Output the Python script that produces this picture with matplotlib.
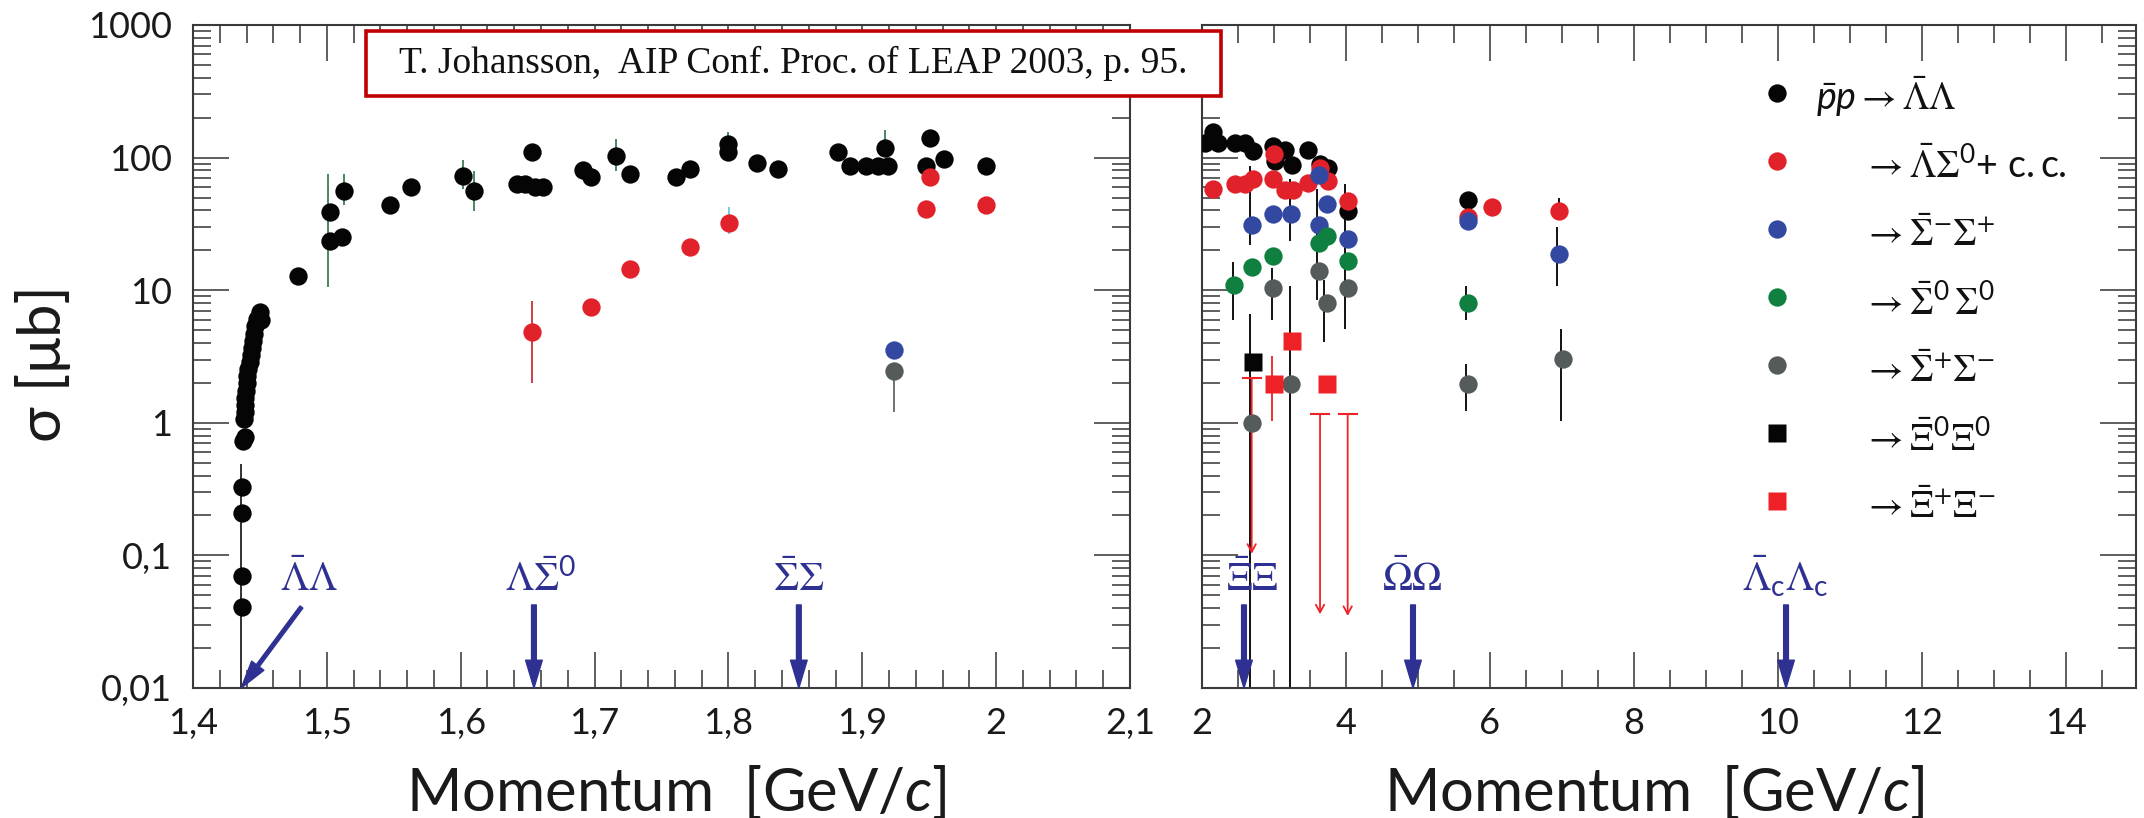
import numpy as np
import matplotlib
matplotlib.use("Agg")
import matplotlib.pyplot as plt
from matplotlib.ticker import FixedLocator, LogLocator, MultipleLocator, NullFormatter
from matplotlib.patches import Rectangle

plt.rcParams['font.family'] = ['Lato', 'Open Sans', 'DejaVu Sans']
plt.rcParams['mathtext.fontset'] = 'custom'
plt.rcParams['mathtext.rm'] = 'STIXGeneral'
plt.rcParams['mathtext.it'] = 'Lato:italic'
plt.rcParams['mathtext.sf'] = 'Lato'
plt.rcParams['mathtext.bf'] = 'Lato:bold'
plt.rcParams['mathtext.fallback'] = 'stix'

# ---- data, left panel (threshold region) ----
ll_x = [1.4364, 1.4364, 1.4364, 1.4364, 1.4370, 1.4385, 1.4380, 1.4385, 1.4390, 1.4385,
        1.4395, 1.4405, 1.4400, 1.4410, 1.4425, 1.4430, 1.4440, 1.4445, 1.4455, 1.4465,
        1.4480, 1.4500, 1.4510,
        1.4787, 1.5023, 1.5110, 1.5023, 1.5128, 1.5471, 1.5628, 1.6019, 1.6100, 1.6417,
        1.6480, 1.6529, 1.6554, 1.6616, 1.6915, 1.6977, 1.7159, 1.7264, 1.7607, 1.7712,
        1.7998, 1.7998, 1.8210, 1.8371, 1.8820, 1.8907, 1.9030, 1.9118, 1.9193, 1.9168,
        1.9504, 1.9474, 1.9609, 1.9922]
ll_y = [0.0405, 0.0695, 0.21, 0.33, 0.73, 0.78, 1.06, 1.2, 1.36, 1.54,
        1.75, 1.98, 2.24, 2.53, 2.87, 3.25, 3.67, 4.16, 4.71, 5.33,
        6.04, 6.84, 6.0,
        12.9, 23.6, 25.1, 38.8, 56.3, 43.9, 59.9, 72.1, 56.3, 62.9,
        63.6, 110, 60, 60, 80.6, 71.3, 103, 75.7, 71.3, 81.6,
        126, 110, 91.2, 81.6, 110, 85.8, 86.9, 86.9, 86.9, 118,
        141, 86.9, 97, 85.8]
ls0_x = [1.6529, 1.6977, 1.7264, 1.7712, 1.8003, 1.9504, 1.9474, 1.9922]
ls0_y = [4.86, 7.41, 14.5, 21.1, 32.2, 71.3, 41.2, 43.9]
smp_x_left = [1.9238]
smp_y_left = [3.56]
spm_x_left = [1.9238]
spm_y_left = [2.45]

# error bars, left panel: (x, low, high)
err_green_x = [1.5008, 1.5128, 1.6019, 1.6100, 1.7159, 1.7998, 1.9168]
err_green_lo = [10.5, 43.9, 58.1, 39.3, 79, 126, 118]
err_green_hi = [75.7, 75.7, 95.3, 79.2, 138, 157, 161]
err_red_x = [1.6529]
err_red_lo = [1.98]
err_red_hi = [8.24]
err_cyan_x = [1.8003]
err_cyan_lo = [26.7]
err_cyan_hi = [42.6]
err_gray_x = [1.9238]
err_gray_lo = [1.21]
err_gray_hi = [2.45]
err_black_x = [1.4355]
err_black_lo = [0.001]
err_black_hi = [0.49]

# ---- data, right panel ----
r_ll_x = [2.042, 2.157, 2.227, 2.458, 2.597, 2.713, 2.99, 3.014, 3.153, 3.246, 3.476, 3.639, 3.754, 4.023, 5.69]
r_ll_y = [129, 156, 129, 128, 129, 113, 123, 94.8, 114, 87.9, 114, 89, 83.6, 39.3, 47.9]
r_ls0_x = [2.157, 2.458, 2.597, 2.713, 3.004, 2.99, 3.153, 3.268, 3.476, 3.639, 3.754, 4.023, 5.69, 6.032, 6.96]
r_ls0_y = [58.4, 63.3, 63.3, 68.6, 107, 68.6, 57, 57, 64.5, 83.6, 66.2, 47.3, 35.6, 42.3, 39.3]
r_smp_x = [2.699, 2.99, 3.236, 3.629, 3.629, 3.732, 4.023, 5.69, 6.96]
r_smp_y = [31, 37.4, 37.4, 73.9, 31, 45, 24.2, 33, 18.9]
r_s00_x = [2.449, 2.699, 2.99, 3.625, 3.732, 4.023, 5.69]
r_s00_y = [10.9, 14.9, 18, 22.7, 25.8, 16.7, 8.02]
r_spm_x = [2.699, 2.99, 3.236, 3.625, 3.732, 4.023, 5.69, 7.01]
r_spm_y = [0.99, 10.3, 1.96, 14, 8.02, 10.3, 1.96, 3.03]
r_x00_x = [2.713]
r_x00_y = [2.85]
r_xpm_x = [3.004, 3.246, 3.732]
r_xpm_y = [1.96, 4.14, 1.96]
lim_x = [2.69, 3.639, 4.023]
lim_top = [2.18, 1.16, 1.16]
lim_tip = [0.103, 0.036, 0.035]

r_err_x = [2.426, 2.667, 2.667, 2.97, 3.222, 3.222, 3.60, 3.69, 3.99, 5.66, 5.66, 6.93, 6.96, 6.98]
r_err_lo = [6.0, 22.1, 0.001, 6.0, 23.5, 0.001, 8.4, 4.1, 5.14, 6.0, 1.23, 10.8, 39.3, 1.03]
r_err_hi = [16.4, 86.5, 6.6, 14.7, 69.5, 10.8, 57.7, 12, 63.2, 10.8, 2.76, 30, 49.5, 5.14]
r_err_red_x = [2.97]
r_err_red_lo = [1.04]
r_err_red_hi = [3.17]

# thresholds (arrow x, label)
thr_left_x = [1.6547, 1.8526]
thr_left_lab = [r'$\Lambda\bar{\Sigma}^{\mathsf{0}}$', r'$\bar{\Sigma}\Sigma$']
thr_left_lab_x = [1.660, 1.8526]
thr_right_x = [2.583, 4.93, 10.11]
thr_right_lab = [r'$\bar{\Xi}\Xi$', r'$\bar{\Omega}\Omega$', r'$\bar{\Lambda}_{\mathsf{c}}\Lambda_{\mathsf{c}}$']
thr_right_lab_x = [2.694, 4.92, 10.1]

y_ticks = [0.01, 0.1, 1, 10, 100, 1000]
y_labels = ['0,01', '0,1', '1', '10', '100', '1000']
x_ticks_left = [1.4, 1.5, 1.6, 1.7, 1.8, 1.9, 2.0, 2.1]
x_labels_left = ['1,4', '1,5', '1,6', '1,7', '1,8', '1,9', '2', '2,1']
x_ticks_right = [2, 4, 6, 8, 10, 12, 14]

legend_labels = [
    r'$\bar{p}p\rightarrow\bar{\Lambda}\Lambda$',
    r'$\rightarrow\bar{\Lambda}\Sigma^{\mathsf{0}}\mathsf{+\ c.c.}$',
    r'$\rightarrow\bar{\Sigma}^{-}\Sigma^{+}$',
    r'$\rightarrow\bar{\Sigma}^{\mathsf{0}}\,\Sigma^{\mathsf{0}}$',
    r'$\rightarrow\bar{\Sigma}^{+}\Sigma^{-}$',
    r'$\rightarrow\bar{\Xi}^{\mathsf{0}}\Xi^{\mathsf{0}}$',
    r'$\rightarrow\bar{\Xi}^{+}\Xi^{-}$',
]

C_BLACK = '#050505'
C_RED = '#e2222a'
C_BLUE = '#3348a0'
C_GREEN = '#108040'
C_GRAY = '#555a5a'
C_SQRED = '#ee2226'
C_ARROW = '#2e3192'
C_ERRGREEN = '#3a7d52'
MS = 13.2

fig = plt.figure(figsize=(21.44, 8.18), dpi=100)
ax1 = fig.add_axes([193 / 2144, 1 - 688 / 818, 937 / 2144, 663 / 818])
ax2 = fig.add_axes([1202 / 2144, 1 - 688 / 818, 934 / 2144, 663 / 818])


def style_axes(ax):
    ax.set_yscale('log')
    ax.set_ylim(0.01, 1000)
    ax.yaxis.set_major_locator(FixedLocator(y_ticks))
    ax.yaxis.set_minor_locator(LogLocator(base=10, subs=np.arange(2, 10)))
    ax.yaxis.set_minor_formatter(NullFormatter())
    ax.tick_params(which='both', direction='in', top=True, right=True,
                   color='#333333', width=1.1, labelsize=26, labelcolor='#1a1a1a')
    ax.tick_params(which='major', length=26)
    ax.tick_params(which='minor', length=13)
    ax.tick_params(axis='x', pad=14)
    ax.tick_params(axis='y', pad=15)
    for s in ax.spines.values():
        s.set_linewidth(1.5)
        s.set_color('#3a3a3a')


def threshold_arrow(ax, x):
    ax.annotate('', xy=(x, 0.0100), xytext=(x, 0.0423),
                arrowprops=dict(color=C_ARROW, width=3.4, headwidth=12,
                                headlength=20, shrink=0), zorder=6)


# ---- left panel ----
style_axes(ax1)
ax1.set_xlim(1.4, 2.1)
ax1.set_xticks(x_ticks_left, labels=x_labels_left)
ax1.xaxis.set_minor_locator(MultipleLocator(0.02))
ax1.set_yticks(y_ticks, labels=y_labels)

ax1.vlines(err_black_x, err_black_lo, err_black_hi, color='#222222', lw=1.3, zorder=2)
ax1.vlines(err_green_x, err_green_lo, err_green_hi, color=C_ERRGREEN, lw=1.3, zorder=2)
ax1.vlines(err_red_x, err_red_lo, err_red_hi, color='#c8323c', lw=1.3, zorder=2)
ax1.vlines(err_cyan_x, err_cyan_lo, err_cyan_hi, color='#6ec6e8', lw=1.3, zorder=2)
ax1.vlines(err_gray_x, err_gray_lo, err_gray_hi, color='#666666', lw=1.3, zorder=2)

ax1.plot(ll_x, ll_y, 'o', ms=MS, color=C_BLACK, mec='none', zorder=3)
ax1.plot(ls0_x, ls0_y, 'o', ms=MS, color=C_RED, mec='none', zorder=4)
ax1.plot(smp_x_left, smp_y_left, 'o', ms=MS, color=C_BLUE, mec='none', zorder=4)
ax1.plot(spm_x_left, spm_y_left, 'o', ms=MS, color=C_GRAY, mec='none', zorder=4)

ax1.annotate('', xy=(1.436, 0.0100), xytext=(1.481, 0.0408),
             arrowprops=dict(color=C_ARROW, width=2.6, headwidth=11,
                             headlength=20, shrink=0), zorder=6)
ax1.text(1.4866, 0.054, r'$\bar{\Lambda}\Lambda$', color=C_ARROW, fontsize=29,
         ha='center', va='baseline', zorder=6)
for x, lx, lab in zip(thr_left_x, thr_left_lab_x, thr_left_lab):
    threshold_arrow(ax1, x)
    ax1.text(lx, 0.054, lab, color=C_ARROW, fontsize=29, ha='center', va='baseline', zorder=6)

ax1.set_ylabel('σ [μb]', fontsize=43, color='#1a1a1a', va='center')
ax1.yaxis.set_label_coords(-0.160, 0.49)
ax1.set_xlabel('Momentum  [GeV/$c$]', fontsize=43, color='#1a1a1a', va='top')
ax1.xaxis.set_label_coords(0.5155, -0.113)

# ---- right panel ----
style_axes(ax2)
ax2.set_xlim(2, 14.97)
ax2.set_xticks(x_ticks_right)
ax2.xaxis.set_minor_locator(MultipleLocator(0.5))
ax2.tick_params(labelleft=False)

ax2.vlines(r_err_x, r_err_lo, r_err_hi, color='#111111', lw=1.4, zorder=2)
ax2.vlines(r_err_red_x, r_err_red_lo, r_err_red_hi, color=C_SQRED, lw=1.3, zorder=2)
for x, top, tip in zip(lim_x, lim_top, lim_tip):
    ax2.annotate('', xy=(x, tip), xytext=(x, top),
                 arrowprops=dict(arrowstyle='->,head_length=0.55,head_width=0.3',
                                 color=C_SQRED, lw=1.3, shrinkA=0, shrinkB=0), zorder=2)
ax2.plot(lim_x, lim_top, '_', ms=15, mew=1.5, color=C_SQRED, zorder=2)

series = [
    (r_ll_x, r_ll_y, 'o', C_BLACK),
    (r_ls0_x, r_ls0_y, 'o', C_RED),
    (r_smp_x, r_smp_y, 'o', C_BLUE),
    (r_s00_x, r_s00_y, 'o', C_GREEN),
    (r_spm_x, r_spm_y, 'o', C_GRAY),
    (r_x00_x, r_x00_y, 's', C_BLACK),
    (r_xpm_x, r_xpm_y, 's', C_SQRED),
]
for i, (xs, ys, m, c) in enumerate(series):
    ax2.plot(xs, ys, m, ms=MS, color=c, mec='none', zorder=3 + i * 0.1)

for x, lx, lab in zip(thr_right_x, thr_right_lab_x, thr_right_lab):
    threshold_arrow(ax2, x)
    ax2.text(lx, 0.054, lab, color=C_ARROW, fontsize=29, ha='center', va='baseline', zorder=6)

# legend drawn by hand to keep the arrow column aligned
for i, ((_, _, m, c), lab) in enumerate(zip(series, legend_labels)):
    yy = 0.8974 - i * 0.1026
    ax2.plot([0.6156], [yy], m, ms=MS, color=c, mec='none', transform=ax2.transAxes,
             clip_on=False, zorder=7)
    tx = 0.6574 if i == 0 else 0.708
    ax2.text(tx, yy - 0.026, lab, transform=ax2.transAxes, fontsize=27, color='#111111',
             ha='left', va='baseline', zorder=7)

ax2.set_xlabel('Momentum  [GeV/$c$]', fontsize=43, color='#1a1a1a', va='top')
ax2.xaxis.set_label_coords(0.484, -0.113)

# reference box
fig.add_artist(Rectangle((366 / 2144, 1 - 96 / 818), 855 / 2144, 65 / 818,
                         transform=fig.transFigure, facecolor='white',
                         edgecolor='#c00000', lw=2.6, zorder=10))
fig.text(793.5 / 2144, 1 - 63.5 / 818, 'T. Johansson,  AIP Conf. Proc. of LEAP 2003, p. 95.',
         fontsize=27, family='Liberation Serif', ha='center', va='center',
         color='#111111', zorder=11)

fig.savefig('out.png', dpi=100)
